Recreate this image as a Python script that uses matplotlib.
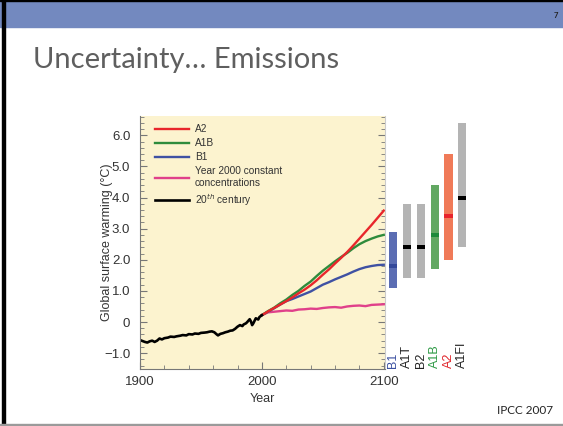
import matplotlib.pyplot as plt
import numpy as np
from matplotlib.patches import Rectangle
from matplotlib.lines import Line2D
from matplotlib.ticker import MultipleLocator, FixedLocator
import matplotlib.transforms as mtransforms

years_20c = [1900, 1902, 1904, 1906, 1908, 1910, 1912, 1914, 1916, 1918, 1920,
             1923, 1925, 1928, 1930, 1933, 1935, 1938, 1940, 1943, 1945, 1948,
             1950, 1953, 1955, 1957, 1959, 1961, 1963, 1964, 1966, 1968, 1970,
             1972, 1974, 1976, 1978, 1980, 1982, 1984, 1985, 1987, 1988, 1990,
             1991, 1992, 1993, 1995, 1997, 1998, 2000]
temp_20c = [-0.58, -0.61, -0.64, -0.66, -0.62, -0.60, -0.64, -0.60, -0.53, -0.56, -0.52,
            -0.50, -0.47, -0.48, -0.46, -0.44, -0.42, -0.43, -0.39, -0.40, -0.37, -0.38,
            -0.35, -0.34, -0.33, -0.31, -0.30, -0.33, -0.40, -0.43, -0.38, -0.36, -0.33,
            -0.31, -0.28, -0.27, -0.22, -0.15, -0.10, -0.13, -0.08, -0.04, 0.00, 0.09,
            0.02, -0.10, -0.04, 0.12, 0.08, 0.16, 0.22]

# Scenario projections
years_proj = [2000, 2005, 2010, 2015, 2020, 2025, 2030, 2035, 2040, 2045, 2050,
              2055, 2060, 2065, 2070, 2075, 2080, 2085, 2090, 2095, 2100]
a2 = [0.22, 0.34, 0.45, 0.56, 0.67, 0.79, 0.92, 1.04, 1.18, 1.34, 1.52,
      1.69, 1.88, 2.06, 2.25, 2.46, 2.68, 2.90, 3.12, 3.35, 3.58]
a1b = [0.22, 0.35, 0.46, 0.60, 0.72, 0.87, 1.00, 1.16, 1.30, 1.48, 1.65,
       1.80, 1.95, 2.09, 2.22, 2.37, 2.50, 2.60, 2.68, 2.75, 2.80]
b1 = [0.22, 0.33, 0.44, 0.56, 0.67, 0.74, 0.82, 0.90, 0.98, 1.09, 1.20,
      1.28, 1.37, 1.45, 1.53, 1.62, 1.70, 1.76, 1.80, 1.83, 1.84]
commit = [0.22, 0.31, 0.33, 0.35, 0.37, 0.36, 0.40, 0.41, 0.43, 0.42, 0.45,
          0.47, 0.48, 0.46, 0.50, 0.52, 0.53, 0.51, 0.55, 0.56, 0.57]

# Likely ranges at 2100
scen_names = ["B1", "A1T", "B2", "A1B", "A2", "A1FI"]
scen_low = [1.1, 1.4, 1.4, 1.7, 2.0, 2.4]
scen_high = [2.9, 3.8, 3.8, 4.4, 5.4, 6.4]
scen_best = [1.8, 2.4, 2.4, 2.8, 3.4, 4.0]
bar_colors = ["#5b6db3", "#b4b4b4", "#b4b4b4", "#62a862", "#f07a58", "#b4b4b4"]
best_colors = ["#34489a", "black", "black", "#1d8a3a", "#e8232b", "black"]
label_colors = ["#3a4fa0", "#222222", "#222222", "#2e9a45", "#e0242a", "#222222"]

fig = plt.figure(figsize=(5.63, 4.26), dpi=100)
W, H = 563, 426

# slide decoration
fig.patches.append(Rectangle((0, 1 - 27 / H), 1, 27 / H, transform=fig.transFigure,
                             color="#7389bf", zorder=0))
fig.patches.append(Rectangle((1.5 / W, 0), 3 / W, 1, transform=fig.transFigure,
                             color="black", zorder=1))
fig.patches.append(Rectangle((0, 1 - 1 / H), 1, 1 / H, transform=fig.transFigure,
                             color="black", zorder=1))
fig.patches.append(Rectangle((0, 1 / H), 1, 1.5 / H, transform=fig.transFigure,
                             color="#9a9a9a", zorder=1))
fig.text(556 / W, 1 - 15 / H, "7", fontsize=5.5, fontweight="bold", color="#222222",
         ha="center", va="center", family="Lato")
fig.text(33 / W, 1 - 60 / H, "Uncertainty… Emissions", fontsize=21, color="#5f5f5f",
         ha="left", va="center", family="Lato")
fig.text(497 / W, 1 - 411 / H, "IPCC 2007", fontsize=8.5, color="#222222",
         ha="left", va="center", family="Lato")

ax = fig.add_axes([140 / W, 57 / H, 245 / W, 253 / H])
ax.set_facecolor("#fcf3cf")
ax.set_xlim(1900, 2101)
ax.set_ylim(-1.51, 6.62)

txt = "#333333"
ax.plot(years_proj, commit, color="#e0408a", lw=1.7)
ax.plot(years_proj, b1, color="#3f51a3", lw=1.7)
ax.plot(years_proj, a1b, color="#2e8b3c", lw=1.7)
ax.plot(years_proj, a2, color="#e8262b", lw=1.7)
ax.plot(years_20c, temp_20c, color="black", lw=1.9)

# bars at right
bar_x = 2107.5 + 11.4 * np.arange(len(scen_names))
lo = np.array(scen_low)
hi = np.array(scen_high)
best = np.array(scen_best)
ax.bar(bar_x, hi - lo, bottom=lo, width=6.6, color=bar_colors, clip_on=False)
ax.bar(bar_x, 0.13, bottom=best - 0.065, width=6.6, color=best_colors, clip_on=False)
trans = mtransforms.blended_transform_factory(ax.transData, ax.transAxes)
for x, name, c in zip(bar_x, scen_names, label_colors):
    ax.text(x, 0.005, name, rotation=90, ha="center", va="bottom", color=c,
            fontsize=9, family="Liberation Sans", transform=trans, clip_on=False)

# axes styling
for s in ["left", "bottom"]:
    ax.spines[s].set_color("#777777")
ax.spines["right"].set_color("#cccccc")
ax.spines["top"].set_visible(False)
ax.xaxis.set_major_locator(FixedLocator([1900, 2000, 2100]))
ax.xaxis.set_minor_locator(MultipleLocator(20))
ax.yaxis.set_major_locator(FixedLocator([-1, 0, 1, 2, 3, 4, 5, 6]))
ax.yaxis.set_minor_locator(MultipleLocator(0.2))
ax.set_yticklabels(["\u22121.0", "0", "1.0", "2.0", "3.0", "4.0", "5.0", "6.0"])
ax.tick_params(which="both", direction="in", colors="#777777", labelcolor=txt,
               labelsize=9.5, right=True)
ax.tick_params(which="major", length=5)
ax.tick_params(which="minor", length=3)
ax.tick_params(axis="y", pad=7)
ax.tick_params(axis="x", pad=5)
for lab in ax.get_xticklabels() + ax.get_yticklabels():
    lab.set_family("Liberation Sans")
ax.set_xlabel("Year", fontsize=9, color=txt, family="Liberation Sans", labelpad=4)
ax.set_ylabel("Global surface warming (°C)", fontsize=9, color=txt,
              family="Liberation Sans")
ax.yaxis.set_label_coords(-0.11, 0.5)

handles = [Line2D([], [], color="#e8262b", lw=1.7),
           Line2D([], [], color="#2e8b3c", lw=1.7),
           Line2D([], [], color="#3f51a3", lw=1.7),
           Line2D([], [], color="#e0408a", lw=1.7),
           Line2D([], [], color="black", lw=1.9)]
labels = ["A2", "A1B", "B1", "Year 2000 constant\nconcentrations", "20$^{th}$ century"]
leg = ax.legend(handles, labels, loc="upper left", bbox_to_anchor=(0.03, 1.0),
                frameon=False, fontsize=7.3, handlelength=3.3, handletextpad=0.6,
                labelspacing=0.4, borderaxespad=0.4)
for t in leg.get_texts():
    t.set_color(txt)
    t.set_family("Liberation Sans")

fig.savefig("out.png", dpi=100)
